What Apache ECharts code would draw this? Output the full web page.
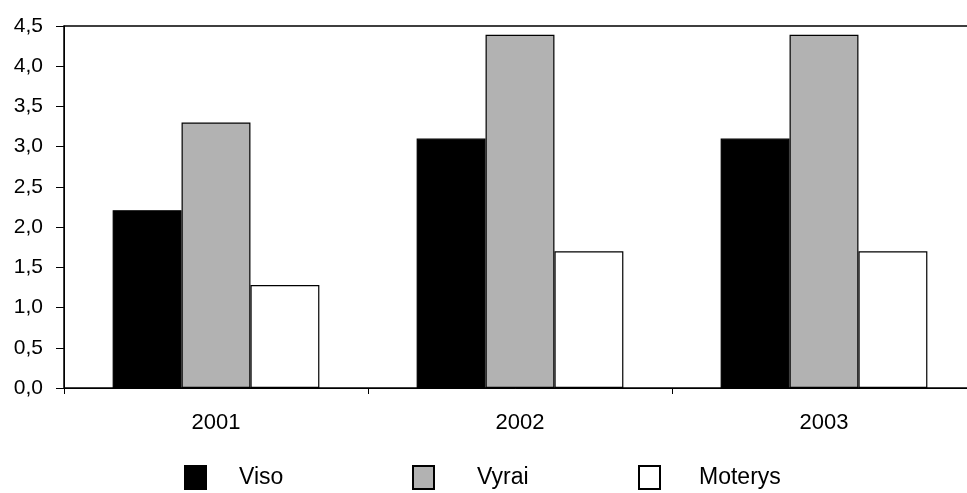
<!DOCTYPE html>
<html>
<head>
<meta charset="utf-8">
<script src="https://cdn.jsdelivr.net/npm/echarts@6/dist/echarts.min.js"></script>
<style>html,body{margin:0;padding:0;background:#fff}#c{width:967px;height:493px}</style>
</head>
<body>
<div id="c"></div>
<script>
const categories = ['2001', '2002', '2003'];
const seriesNames = ['Viso', 'Vyrai', 'Moterys'];
const viso = [2.21, 3.1, 3.1];
const vyrai = [3.3, 4.39, 4.39];
const moterys = [1.28, 1.7, 1.7];
const yMin = 0, yMax = 4.5, yStep = 0.5;

const font = 'Liberation Sans, Arial, sans-serif';
const chart = echarts.init(document.getElementById('c'), null, {renderer: 'canvas'});
const fills = ['#000000', '#b2b2b2', '#ffffff'];
const values = [viso, vyrai, moterys];
const legendLeft = [184, 412, 638];
const legendPad = [28, 38, 34];

chart.setOption({
  animation: false,
  backgroundColor: '#fff',
  grid: {left: 64, top: 26, height: 362, width: 912, outerBoundsMode: 'none', containLabel: false,
    show: true, borderColor: '#000', borderWidth: 1.5, backgroundColor: 'transparent'},
  legend: seriesNames.map((n, i) => ({
    data: [n], left: legendLeft[i], top: 465, padding: 0, itemWidth: 21, itemHeight: 23,
    icon: 'rect',
    textStyle: {fontFamily: font, fontSize: 23, color: '#000', padding: [2, 0, 0, legendPad[i]]}
  })),
  xAxis: {
    type: 'category', data: categories,
    axisLine: {lineStyle: {color: '#000', width: 1}},
    axisTick: {show: true, length: 6, lineStyle: {color: '#000'}},
    axisLabel: {fontFamily: font, fontSize: 22, color: '#000', margin: 24},
    splitLine: {show: false}
  },
  yAxis: {
    type: 'value', min: yMin, max: yMax, interval: yStep,
    axisLine: {show: true, lineStyle: {color: '#000', width: 1}},
    axisTick: {show: true, length: 8, lineStyle: {color: '#000'}},
    axisLabel: {fontFamily: font, fontSize: 21, color: '#000', margin: 21,
      formatter: v => v.toFixed(1).replace('.', ',')},
    splitLine: {show: false}
  },
  series: seriesNames.map((n, i) => ({
    name: n, type: 'bar', data: values[i],
    barGap: '0%', barCategoryGap: '32%',
    itemStyle: {color: fills[i], borderColor: '#000', borderWidth: 1.2}
  }))
});
</script>
</body>
</html>
